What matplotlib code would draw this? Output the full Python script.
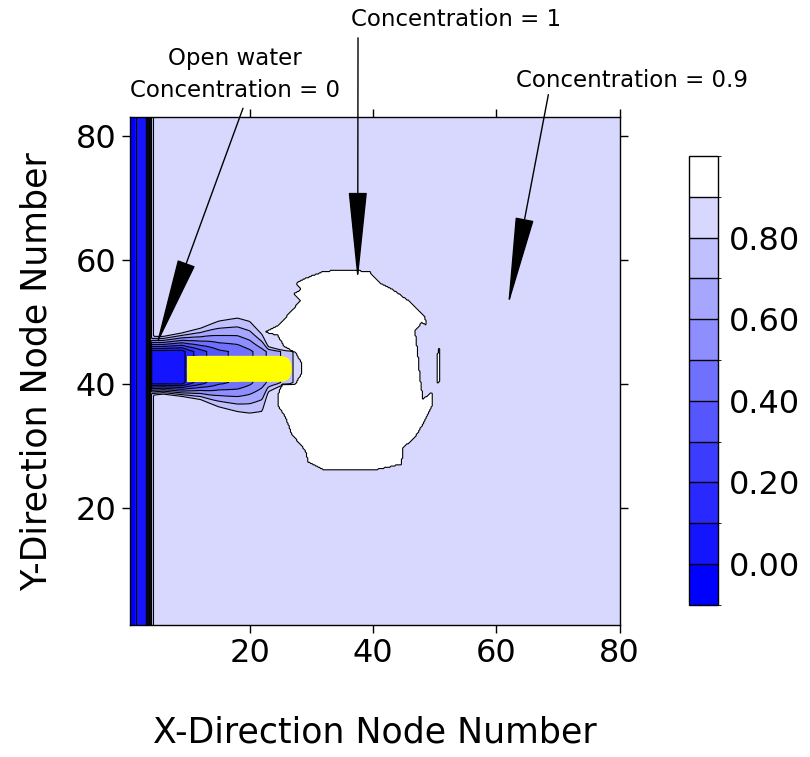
import numpy as np
import matplotlib
matplotlib.use("Agg")
import matplotlib.pyplot as plt
from matplotlib.colors import ListedColormap, BoundaryNorm
from matplotlib.path import Path
from matplotlib.patches import FancyBboxPatch, Rectangle

# ---------- data ----------
levels = [-0.1, 0.0, 0.1, 0.2, 0.3, 0.4, 0.5, 0.6, 0.7, 0.8, 0.9, 1.0]
bin_colors = ["#0000FF", "#1414FF", "#2828FF", "#3C3CFF", "#5656FF", "#7070FF",
              "#8E8EFF", "#A6A6FF", "#C0C0FF", "#D8D8FF", "#FFFFFF"]
cbar_ticks = [0.0, 0.2, 0.4, 0.6, 0.8]
background_conc = 0.85
white_conc = 0.95

# open-water strip along the left edge (profile across x)
band_x = [0.5, 1.4, 1.6, 3.2, 3.6, 4.0, 4.6]
band_v = [-0.05, -0.05, 0.05, 0.05, 0.40, 0.70, 0.86]

# plume around the yellow bar: stations, outer edge above / below, value at core
plume_x = [4.0, 6.0, 9.0, 10.0, 12.0, 15.0, 18.0, 20.0, 22.0, 23.0, 25.0, 27.0, 28.5]
plume_top = [47.8, 47.8, 48.4, 48.7, 49.3, 50.7, 51.3, 50.8, 48.5, 46.2, 45.6, 45.2, 45.0]
plume_bot = [38.0, 38.2, 37.8, 37.6, 37.2, 35.8, 34.9, 34.5, 34.6, 38.3, 39.4, 39.9, 40.2]
plume_core = [0.05, 0.05, 0.05, 0.15, 0.26, 0.38, 0.42, 0.48, 0.56, 0.62, 0.70, 0.80, 0.86]
core_lo, core_hi = 40.1, 45.2

# concentration = 1 region (outline)
blob_x = [34.4, 37.1, 39.5, 41.1, 43.0, 46.2, 48.4, 48.7, 47.9, 46.8, 47.2, 47.6,
          48.1, 49.5, 49.7, 48.4, 46.8, 44.9, 44.6, 40.9, 35.5, 31.7, 29.5, 29.0,
          26.8, 25.8, 24.7, 24.5, 25.2, 27.4, 28.3, 28.3, 27.4, 25.6, 24.5, 22.5,
          24.7, 26.8, 28.2, 27.1, 28.4, 27.4, 28.7, 31.7]
blob_y = [58.4, 58.3, 58.0, 56.3, 55.3, 53.1, 50.7, 49.4, 49.9, 48.5, 45.3, 41.0,
          37.5, 38.6, 36.7, 34.0, 31.3, 29.7, 27.0, 26.2, 26.0, 26.2, 27.3, 29.2,
          31.9, 34.6, 36.2, 38.0, 39.8, 40.0, 41.5, 43.5, 45.0, 46.0, 47.8, 48.3,
          49.4, 51.8, 53.4, 54.5, 55.3, 56.1, 56.9, 58.0]
sliver_x = [50.4, 50.8, 50.9, 50.6, 50.4]
sliver_y = [40.0, 40.5, 45.5, 45.8, 44.0]

# yellow bar
bar_x0, bar_x1 = 9.8, 26.8
bar_y0, bar_y1 = 40.3, 44.5

# ---------- build the field ----------
xs = np.arange(0.5, 80.01, 0.2)
ys = np.arange(1.0, 83.01, 0.2)
X, Y = np.meshgrid(xs, ys)

Z = np.full(X.shape, background_conc)
Z = np.minimum(Z, np.interp(X, band_x, band_v))

top = np.interp(X, plume_x, plume_top)
bot = np.interp(X, plume_x, plume_bot)
core = np.interp(X, plume_x, plume_core)
inside = (X >= plume_x[0]) & (X <= plume_x[-1])
t = np.zeros_like(X)
t = np.where(Y > core_hi, (Y - core_hi) / (top - core_hi), t)
t = np.where(Y < core_lo, (core_lo - Y) / (core_lo - bot), t)
t = np.clip(t, 0, 1)
pl = core + (background_conc - core) * t
Z = np.where(inside, np.minimum(Z, pl), Z)

pts = np.column_stack([X.ravel(), Y.ravel()])
for px, py in [(blob_x, blob_y), (sliver_x, sliver_y)]:
    m = Path(np.column_stack([px, py])).contains_points(pts).reshape(X.shape)
    Z = np.where(m, white_conc, Z)

# ---------- plot ----------
cmap = ListedColormap(bin_colors)
norm = BoundaryNorm(levels, cmap.N)

fig = plt.figure(figsize=(8.1, 7.57), dpi=100)
ax = fig.add_axes([0.160, 0.174, 0.605, 0.671])
cf = ax.contourf(X, Y, Z, levels=levels, cmap=cmap, norm=norm)
ax.contour(X, Y, Z, levels=levels[1:-1], colors="black", linewidths=0.8)

ax.add_patch(FancyBboxPatch((bar_x0, bar_y0), bar_x1 - bar_x0, bar_y1 - bar_y0,
                            boxstyle="round,pad=0,rounding_size=2",
                            facecolor="yellow", edgecolor="none", zorder=3))
ax.add_patch(Rectangle((bar_x0, bar_y0), (bar_x1 - bar_x0) / 2, bar_y1 - bar_y0,
                       facecolor="yellow", edgecolor="none", zorder=3))

ax.set_xlim(0.5, 80)
ax.set_ylim(1, 83)
ax.set_xticks([20, 40, 60, 80])
ax.set_yticks([20, 40, 60, 80])
ax.tick_params(direction="out", length=6, width=1, labelsize=23,
               top=True, right=True, labeltop=False, labelright=False)
for s in ax.spines.values():
    s.set_linewidth(1.0)
ax.set_xlabel("X-Direction Node Number", fontsize=25, labelpad=33)
ax.set_ylabel("Y-Direction Node Number", fontsize=25, labelpad=16)

# annotations
fs = 16.5
ax.annotate("Open water\nConcentration = 0", xy=(0.290, 0.902), xycoords="figure fraction",
            ha="center", va="center", fontsize=fs, linespacing=1.5)
ax.text(0.563, 0.974, "Concentration = 1", transform=fig.transFigure,
        ha="center", va="center", fontsize=fs)
ax.text(0.780, 0.894, "Concentration = 0.9", transform=fig.transFigure,
        ha="center", va="center", fontsize=fs)

arrow_tip_x = [4.8, 37.5, 61.9]
arrow_tip_y = [46.1, 56.6, 52.6]
arrow_start = [(0.300, 0.857), (0.442, 0.950), (0.677, 0.875)]
for tx, ty, st in zip(arrow_tip_x, arrow_tip_y, arrow_start):
    ax.annotate("", xy=(tx, ty), xycoords="data", xytext=st, textcoords="figure fraction",
                annotation_clip=False,
                arrowprops=dict(arrowstyle="-|>,head_length=2.9,head_width=0.3",
                                mutation_scale=20, color="black", lw=1.0,
                                shrinkA=0, shrinkB=0))

# colorbar
cax = fig.add_axes([0.851, 0.201, 0.035, 0.593])
cb = fig.colorbar(cf, cax=cax, ticks=cbar_ticks)
cb.ax.set_yticklabels([f"{v:.2f}" for v in cbar_ticks])
cb.ax.tick_params(length=0, labelsize=23, pad=8)
cb.outline.set_linewidth(1.0)
for lv in levels[1:-1]:
    cax.axhline(lv, color="black", lw=1.0)

fig.savefig("out.png", dpi=100)
